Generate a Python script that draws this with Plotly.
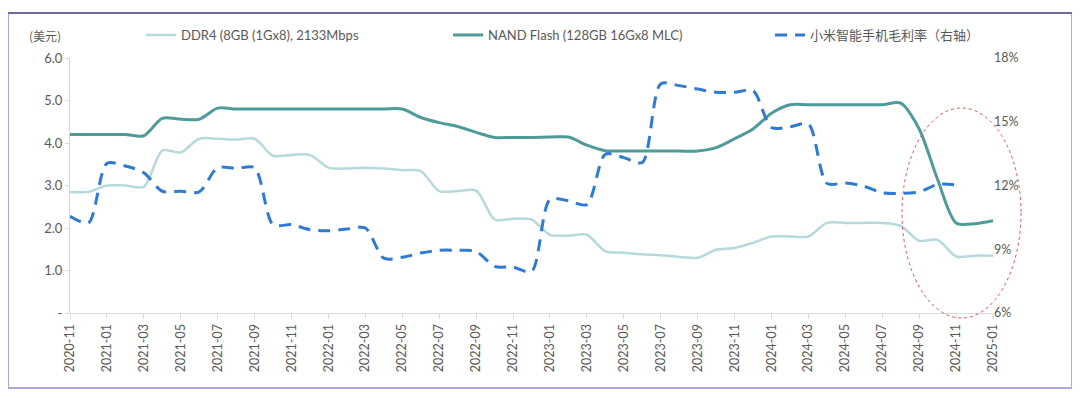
import plotly.graph_objects as go

months = [f"{y}-{m:02d}" for y in range(2020, 2026) for m in range(1, 13)]
months = months[months.index("2020-11"):months.index("2025-01") + 1]

ddr4 = [2.85, 2.85, 3.0, 3.0, 2.97, 3.82, 3.78, 4.1, 4.1, 4.08, 4.1, 3.7, 3.72, 3.72,
        3.42, 3.4, 3.42, 3.4, 3.36, 3.34, 2.87, 2.87, 2.88, 2.2, 2.22, 2.2, 1.84, 1.82,
        1.84, 1.45, 1.42, 1.38, 1.36, 1.32, 1.30, 1.49, 1.53, 1.65, 1.80, 1.80, 1.80,
        2.12, 2.12, 2.12, 2.12, 2.05, 1.70, 1.72, 1.33, 1.35, 1.35]

nand = [4.2, 4.2, 4.2, 4.2, 4.17, 4.58, 4.56, 4.56, 4.82, 4.8, 4.8, 4.8, 4.8, 4.8,
        4.8, 4.8, 4.8, 4.8, 4.8, 4.6, 4.48, 4.39, 4.25, 4.13, 4.13, 4.13, 4.14, 4.14,
        3.95, 3.82, 3.81, 3.81, 3.81, 3.81, 3.81, 3.89, 4.1, 4.33, 4.7, 4.9, 4.9,
        4.9, 4.9, 4.9, 4.9, 4.94, 4.33, 3.14, 2.12, 2.1, 2.17]

margin = [10.55, 10.24, 13.04, 12.92, 12.6, 11.73, 11.73, 11.7, 12.84, 12.8, 12.84,
          10.16, 10.16, 9.92, 9.87, 9.95, 10.0, 8.58, 8.62, 8.82, 8.95, 8.95, 8.9,
          8.19, 8.16, 7.95, 11.34, 11.28, 11.1, 13.47, 13.31, 13.08, 16.78, 16.7,
          16.54, 16.39, 16.39, 16.46, 14.73, 14.76, 14.89, 12.1, 12.12, 11.97, 11.66,
          11.63, 11.7, 12.05, 12.03, None, None]

left_ticks = [0, 1, 2, 3, 4, 5, 6]
left_tick_text = ["-", "1.0", "2.0", "3.0", "4.0", "5.0", "6.0"]
right_ticks = [6, 9, 12, 15, 18]
right_tick_text = ["6%", "9%", "12%", "15%", "18%"]

names = ["DDR4 (8GB (1Gx8), 2133Mbps", "NAND Flash (128GB 16Gx8 MLC)", "小米智能手机毛利率（右轴）"]

GRAY = "#595959"
LAT = "Lato, 'Noto Sans CJK SC', sans-serif"
CJK = "'Noto Sans CJK SC', sans-serif"

# page body has an 8px margin: figure drawn at (8, 8)
OFF = 8
W, H = 1080 - OFF, 399 - OFF
PL, PR, PT, PB = 70, 993, 58, 313          # plot area in screen pixels
L, R, T, B = PL - OFF, W - (PR - OFF), PT - OFF, H - (PB - OFF)
pw, ph = W - L - R, H - T - B


def px(x):
    return (x - PL) / pw


def py(y):
    return (PB - y) / ph


fig = go.Figure()
fig.add_trace(go.Scatter(x=months, y=ddr4, name=names[0], mode="lines", legend="legend",
                         line=dict(color="#b5d9dc", width=2.5, shape="spline", smoothing=0.8)))
fig.add_trace(go.Scatter(x=months, y=nand, name=names[1], mode="lines", legend="legend2",
                         line=dict(color="#4e9b99", width=3, shape="spline", smoothing=0.8)))
fig.add_trace(go.Scatter(x=months, y=margin, name=names[2], mode="lines", yaxis="y2",
                         legend="legend3",
                         line=dict(color="#2e7bd3", width=3, dash="12px,8px",
                                   shape="spline", smoothing=0.8)))


def leg(xpix):
    return dict(orientation="h", x=px(xpix), y=py(35), xanchor="left", yanchor="middle",
                font=dict(size=13, color=GRAY, family=LAT), bgcolor="rgba(0,0,0,0)")


fig.update_layout(
    width=W, height=H,
    margin=dict(l=L, r=R, t=T, b=B, autoexpand=False),
    paper_bgcolor="white", plot_bgcolor="white",
    font=dict(family=LAT, size=13, color=GRAY),
    showlegend=True,
    legend=leg(141),
    legend2=leg(448),
    legend3=leg(770),
    xaxis=dict(type="category", categoryorder="array", categoryarray=months,
               range=[0, len(months) - 1], tickmode="array", tickvals=months[::2],
               ticktext=months[::2], tickangle=-90, showgrid=False,
               showline=True, linecolor="#d9d9d9", linewidth=1,
               ticks="outside", ticklen=5, tickcolor="#d9d9d9",
               tickfont=dict(size=12.5, color=GRAY)),
    yaxis=dict(range=[0, 6], tickmode="array", tickvals=left_ticks, ticktext=left_tick_text,
               showgrid=False, zeroline=False, showline=True, linecolor="#d9d9d9",
               ticks="outside", ticklen=4, tickcolor="#d9d9d9",
               tickfont=dict(size=13, color=GRAY)),
    yaxis2=dict(range=[6, 18], overlaying="y", side="right", tickmode="array",
                tickvals=right_ticks, ticktext=right_tick_text, showgrid=False,
                zeroline=False, showline=False, ticks="",
                tickfont=dict(size=12.5, color=GRAY)),
)

fig.add_annotation(text="(美元)", xref="paper", yref="paper", x=px(45), y=py(35),
                   xanchor="center", yanchor="middle",
                   showarrow=False, font=dict(family=CJK, size=12, color=GRAY))

# outer frame
fig.add_shape(type="rect", xref="paper", yref="paper",
              x0=px(8), x1=px(1072), y0=py(388), y1=py(13),
              line=dict(color="#a9a9e0", width=2), layer="below")
fig.add_shape(type="line", xref="paper", yref="paper",
              x0=px(8), x1=px(1072), y0=py(13), y1=py(13),
              line=dict(color="#6b6b9e", width=2))

# highlight ellipse
fig.add_shape(type="circle", xref="paper", yref="paper",
              x0=px(902), x1=px(1021), y0=py(318), y1=py(108),
              line=dict(color="#e05050", width=1, dash="dot"))

fig.write_html("out.html")
